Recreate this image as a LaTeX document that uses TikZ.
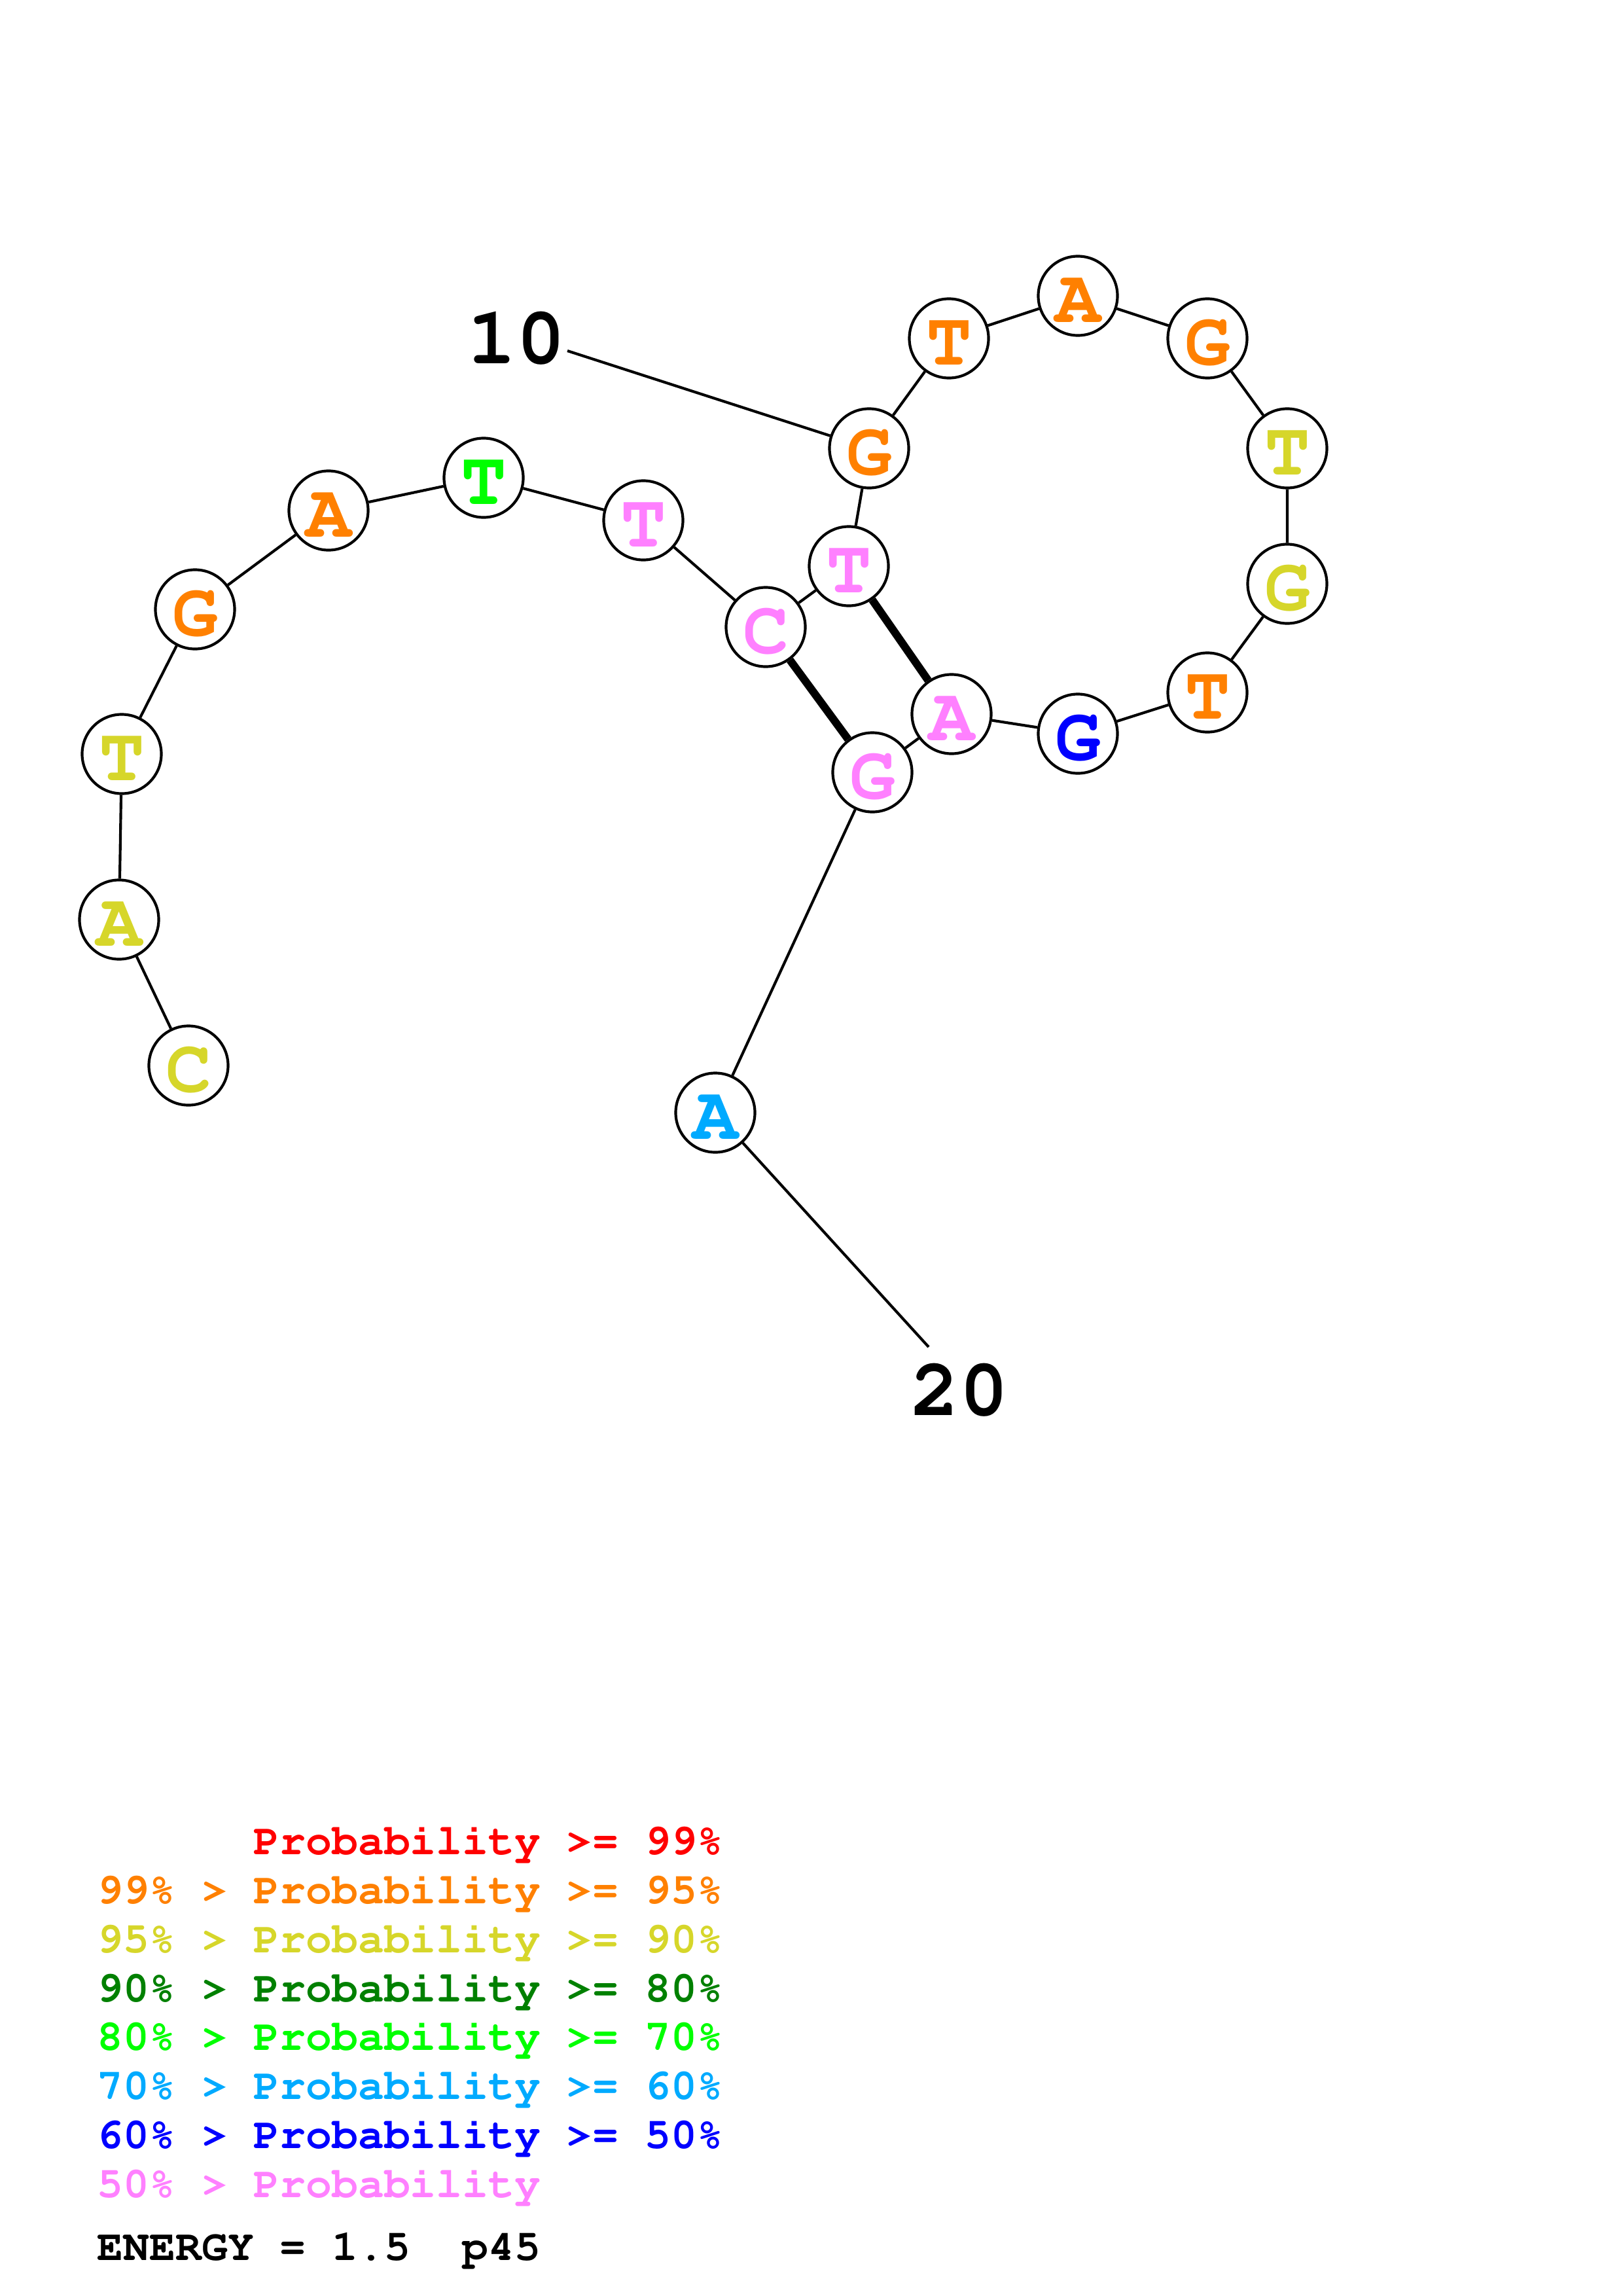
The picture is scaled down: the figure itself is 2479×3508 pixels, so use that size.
\documentclass[tikz,border=0pt]{standalone}
\usepackage[T1,TU]{fontenc}
\usepackage{tikz}
\usepackage{xcolor}

% Colores de probabilidad
\definecolor{prob99}{RGB}{255,0,0}
\definecolor{prob95}{RGB}{255,128,0}
\definecolor{prob90}{RGB}{214,214,42}
\definecolor{prob80}{RGB}{0,128,0}
\definecolor{prob70}{RGB}{0,255,0}
\definecolor{prob60}{RGB}{0,170,255}
\definecolor{prob50}{RGB}{0,0,255}
\definecolor{probLow}{RGB}{255,128,255}

\newcommand{\nucfont}{\fontencoding{T1}\fontfamily{pcr}\fontseries{b}\fontshape{n}\fontsize{28}{30}\selectfont}
\newcommand{\numfont}{\fontencoding{T1}\fontfamily{pcr}\fontseries{b}\fontshape{n}\fontsize{30}{32}\selectfont}
\newcommand{\legfont}{\fontencoding{T1}\fontfamily{pcr}\fontseries{b}\fontshape{n}\fontsize{16}{18}\selectfont}

\tikzset{
  nuc/.style={circle, draw, line width=1pt, minimum size=1.025cm, inner sep=0pt,
    font=\nucfont, text height=0.69cm, text depth=0pt},
  chain/.style={line width=1pt},
  pair/.style={line width=2.9pt},
  leg/.style={anchor=base west, inner sep=0pt, font=\legfont}
}

\begin{document}
\begin{tikzpicture}[x=0.0084711cm, y=-0.0084711cm]
    \useasboundingbox (0,0) rectangle (2479,3508);

    % Bases de la secuencia
    \node[nuc, text=prob90] (n1) at (288,1628) {C};
    \node[nuc, text=prob90] (n2) at (182,1405) {A};
    \node[nuc, text=prob90] (n3) at (186,1152) {T};
    \node[nuc, text=prob95] (n4) at (298,931) {G};
    \node[nuc, text=prob95] (n5) at (502,780) {A};
    \node[nuc, text=prob70] (n6) at (739,730) {T};
    \node[nuc, text=probLow] (n7) at (983,795) {T};
    \node[nuc, text=probLow] (n8) at (1170,958) {C};
    \node[nuc, text=probLow] (n9) at (1297,865) {T};
    \node[nuc, text=prob95] (n10) at (1328,685) {G};
    \node[nuc, text=prob95] (n11) at (1450,517) {T};
    \node[nuc, text=prob95] (n12) at (1647,452) {A};
    \node[nuc, text=prob95] (n13) at (1845,517) {G};
    \node[nuc, text=prob90] (n14) at (1967,685) {T};
    \node[nuc, text=prob90] (n15) at (1967,892) {G};
    \node[nuc, text=prob95] (n16) at (1845,1058) {T};
    \node[nuc, text=prob50] (n17) at (1647,1121) {G};
    \node[nuc, text=probLow] (n18) at (1454,1091) {A};
    \node[nuc, text=probLow] (n19) at (1333,1180) {G};
    \node[nuc, text=prob60] (n20) at (1093,1700) {A};

    % Esqueleto
    \draw[chain] (n1) -- (n2) -- (n3) -- (n4) -- (n5) -- (n6) -- (n7) -- (n8) -- (n9) -- (n10)
        -- (n11) -- (n12) -- (n13) -- (n14) -- (n15) -- (n16) -- (n17) -- (n18) -- (n19) -- (n20);

    % Pares de bases
    \draw[pair] (n8) -- (n19);
    \draw[pair] (n9) -- (n18);

    % Numeracion
    \node[font=\numfont] (lab10) at (789,517) {10};
    \coordinate (e10) at (867,536);
    \draw[chain] (e10) -- (n10);
    \node[font=\numfont] (lab20) at (1466,2124) {20};
    \coordinate (e20) at (1419,2058);
    \draw[chain] (n20) -- (e20);

    % Leyenda
    \node[leg, text=prob99] (leg1) at (148,2833) {\phantom{99\% > }Probability >= 99\%};
    \node[leg, text=prob95] (leg2) at (148,2908) {99\% > Probability >= 95\%};
    \node[leg, text=prob90] (leg3) at (148,2983) {95\% > Probability >= 90\%};
    \node[leg, text=prob80] (leg4) at (148,3058) {90\% > Probability >= 80\%};
    \node[leg, text=prob70] (leg5) at (148,3132) {80\% > Probability >= 70\%};
    \node[leg, text=prob60] (leg6) at (148,3207) {70\% > Probability >= 60\%};
    \node[leg, text=prob50] (leg7) at (148,3282) {60\% > Probability >= 50\%};
    \node[leg, text=probLow] (leg8) at (148,3357) {50\% > Probability};
    \node[leg] (energy) at (148,3453) {ENERGY = 1.5\ \ p45};
\end{tikzpicture}
\end{document}
